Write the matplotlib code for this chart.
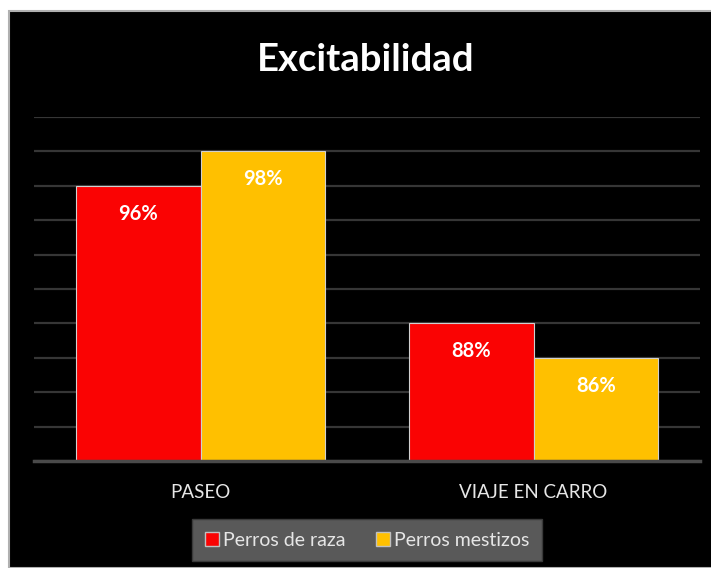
import matplotlib
matplotlib.use("Agg")
import matplotlib.pyplot as plt
from matplotlib.patches import Rectangle, Patch
import numpy as np

categories = ["PASEO", "VIAJE EN CARRO"]
series_names = ["Perros de raza", "Perros mestizos"]
raza = [96, 88]
mestizos = [98, 86]
colors = ["#fa0303", "#ffc000"]
title = "Excitabilidad"

W, H = 711, 568
fig = plt.figure(figsize=(W / 100, H / 100), dpi=100, facecolor="white")
fig.patches.append(Rectangle((9 / W, 0), 1 - 9 / W + 0.01, 1 - 11 / H, transform=fig.transFigure,
                             facecolor="black", edgecolor="#b0b0b0", linewidth=1.5, zorder=-10))

ax = fig.add_axes([34 / W, 1 - 461 / H, (700 - 34) / W, (461 - 117) / H])
ax.set_facecolor("black")
x = np.arange(len(categories))
w = 0.375
b1 = ax.bar(x - w / 2, raza, w, color=colors[0], edgecolor="#d0d0d0", linewidth=0.8, label=series_names[0], zorder=3)
b2 = ax.bar(x + w / 2, mestizos, w, color=colors[1], edgecolor="#d0d0d0", linewidth=0.8, label=series_names[1], zorder=3)
ax.set_ylim(80, 100)
ax.set_xlim(-0.5, 1.5)
ax.set_yticks(np.arange(80, 101, 2))
ax.yaxis.grid(True, color="#363636", linewidth=1.6, zorder=0)
ax.tick_params(axis="y", left=False, labelleft=False)
ax.tick_params(axis="x", bottom=False, colors="#e6e6e6", labelsize=13.5, pad=13)
ax.set_xticks(x)
ax.set_xticklabels(categories, fontfamily="Lato")
for s in ["top", "right", "left"]:
    ax.spines[s].set_visible(False)
ax.spines["bottom"].set_color("#4a4a4a")
ax.spines["bottom"].set_linewidth(2.5)
ax.spines["bottom"].set_zorder(4)

for bars in (b1, b2):
    for r in bars:
        ax.annotate(f"{r.get_height():.0f}%", (r.get_x() + r.get_width() / 2, r.get_height()),
                    xytext=(0, -20), textcoords="offset points", ha="center", va="center",
                    color="white", fontsize=14.5, fontweight="bold", fontfamily="Lato", zorder=5)

fig.text(366 / W, 1 - 60 / H, title, ha="center", va="center", color="white",
         fontsize=27.5, fontweight="bold", fontfamily="Lato")

handles = [Patch(facecolor=colors[0], edgecolor="#c0c0c0"), Patch(facecolor=colors[1], edgecolor="#c0c0c0")]
leg = fig.legend(handles, series_names, loc="center", bbox_to_anchor=(367 / W, 1 - 540 / H),
                 ncol=2, frameon=True, fancybox=False, facecolor="#595959", edgecolor="#3a3a3a",
                 framealpha=1, labelcolor="#e6e6e6", prop={"family": "Lato", "size": 14},
                 handlelength=0.7, handleheight=0.7, handletextpad=0.2, columnspacing=1.6,
                 borderpad=0.65, borderaxespad=0)
leg.get_frame().set_boxstyle("square", pad=0)

fig.savefig("out.png", dpi=100, facecolor="white")
